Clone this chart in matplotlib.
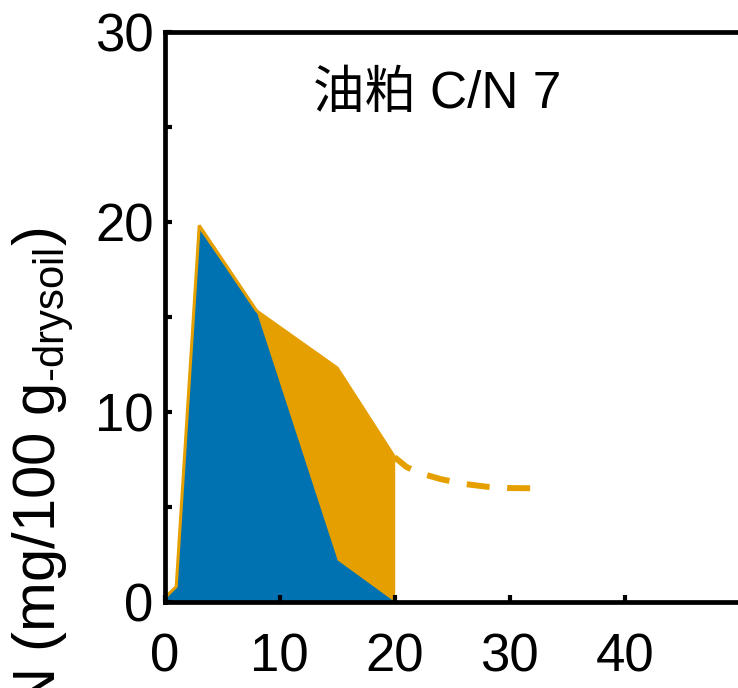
import matplotlib
matplotlib.use("Agg")
import matplotlib.pyplot as plt

plt.rcParams['font.family'] = ['Liberation Sans', 'Noto Sans CJK JP', 'DejaVu Sans']
plt.rcParams['mathtext.fontset'] = 'custom'
plt.rcParams['mathtext.rm'] = 'Liberation Sans'

# data
days = [0, 1, 3, 8, 15, 20]
total_n = [0.2, 0.8, 19.8, 15.3, 12.3, 7.6]      # orange
part_n = [0.2, 0.8, 19.6, 15.2, 2.2, 0.0]        # blue
fit_days = [20, 21, 22, 24, 26, 28, 30, 32]
fit_n = [7.6, 7.1, 6.8, 6.45, 6.2, 6.05, 5.98, 5.97]
xticks = [0, 10, 20, 30, 40]
yticks = [0, 5, 10, 15, 20, 25, 30]
yticklabels = ['0', '', '10', '', '20', '', '30']
title = '油粕 C/N 7'
ylabel = 'N (mg/100 g$_{\\text{-drysoil}}$)'

ORANGE = '#E69F00'
BLUE = '#0072B2'

fig = plt.figure(figsize=(7.38, 6.88), dpi=100)
ax = fig.add_axes([0.2232, 0.1254, 0.7791, 0.8288])

ax.fill_between(days, 0, total_n, color=ORANGE, linewidth=0)
ax.fill_between(days, 0, part_n, color=BLUE, linewidth=0)
ax.plot(days, total_n, color=ORANGE, lw=2.2, solid_joinstyle='miter')
ax.plot(fit_days, fit_n, color=ORANGE, lw=4.3, linestyle=(0.5, (3.85, 2.95)))

ax.set_xlim(0, 50)
ax.set_ylim(0, 30)
ax.set_xticks(xticks)
ax.set_yticks(yticks)
ax.set_yticklabels(yticklabels)
ax.tick_params(direction='in', length=5, width=3, labelsize=38)
ax.tick_params(axis='x', pad=22)
ax.tick_params(axis='y', pad=8)
for s in ['left', 'bottom', 'top']:
    ax.spines[s].set_linewidth(3.4)
ax.spines['right'].set_visible(False)

ax.text(23.7, 26.0, title, ha='center', va='baseline', fontsize=37)

fig.text(44 / 738, 1 - 227 / 688, ylabel, rotation=90, ha='center', va='top', fontsize=43)

fig.savefig('out.png', dpi=100)
